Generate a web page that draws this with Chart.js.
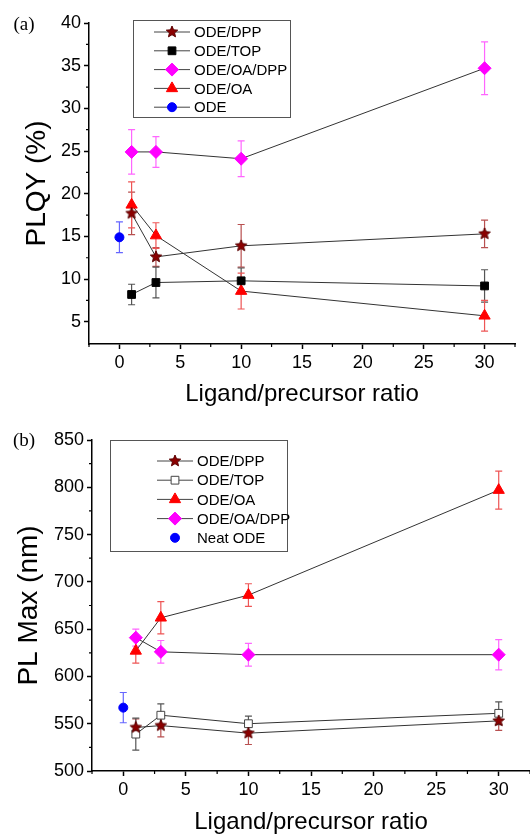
<!DOCTYPE html>
<html>
<head>
<meta charset="utf-8">
<script src="https://cdn.jsdelivr.net/npm/chart.js@4.4.0/dist/chart.umd.min.js"></script>
<style>
  html, body { margin: 0; padding: 0; background: #fff; }
  #wrap { position: relative; width: 530px; height: 837px; overflow: hidden; }
  .panel { position: absolute; left: 0; width: 530px; }
</style>
</head>
<body>
<div id="wrap">
  <div class="panel" style="top:0;height:418px"><canvas id="chartA"></canvas></div>
  <div class="panel" style="top:418px;height:419px"><canvas id="chartB"></canvas></div>
</div>
<script>
// ---- data ----
const ratios = [1, 3, 10, 30];
const neatRatio = [0];

// (a) PLQY (%)
const plqyDPP = [17.7, 12.6, 13.9, 15.3];
const plqyDPPErr = [2.5, 1.1, 2.5, 1.6];
const plqyTOP = [8.2, 9.6, 9.8, 9.2];
const plqyTOPErr = [1.2, 1.8, 1.5, 1.9];
const plqyOADPP = [24.9, 24.9, 24.1, 34.7];
const plqyOADPPErr = [2.6, 1.8, 2.1, 3.1];
const plqyOA = [18.7, 15.1, 8.6, 5.7];
const plqyOAErr = [2.7, 1.5, 2.1, 1.8];
const plqyODE = [14.9];
const plqyODEErr = [1.8];

// (b) PL max (nm)
const pmDPP = [546, 548, 540, 553];
const pmDPPErr = [9, 12, 12, 10];
const pmTOP = [539, 559, 550, 561];
const pmTOPErr = [17, 12, 8, 12];
const pmOA = [627, 662, 686, 797];
const pmOAErr = [13, 17, 12, 20];
const pmOADPP = [641, 626, 623, 623];
const pmOADPPErr = [9, 12, 12, 16];
const pmODE = [567];
const pmODEErr = [16];

// ticks
const xTicks = [0, 5, 10, 15, 20, 25, 30];
const xMinor = [-2.5, 2.5, 7.5, 12.5, 17.5, 22.5, 27.5, 32.5];
const yTicksA = [5, 10, 15, 20, 25, 30, 35, 40];
const yMinorA = [7.5, 12.5, 17.5, 22.5, 27.5, 32.5, 37.5];
const yTicksB = [500, 550, 600, 650, 700, 750, 800, 850];
const yMinorB = [525, 575, 625, 675, 725, 775, 825];

const FONT = "'Liberation Sans', Arial, sans-serif";

function pts(xs, ys) {
  return xs.map((x, i) => ({ x: x, y: ys[i] }));
}

// filled five point star used as point style
function makeStar(r, fill, stroke) {
  const c = document.createElement('canvas');
  const s = Math.ceil(r * 2 + 4);
  c.width = s; c.height = s;
  const ctx = c.getContext('2d');
  ctx.beginPath();
  for (let i = 0; i < 10; i++) {
    const rad = i % 2 ? r * 0.45 : r;
    const a = -Math.PI / 2 + i * Math.PI / 5;
    ctx.lineTo(s / 2 + rad * Math.cos(a), s / 2 + rad * Math.sin(a));
  }
  ctx.closePath();
  ctx.fillStyle = fill;
  ctx.fill();
  ctx.strokeStyle = stroke;
  ctx.lineWidth = 1;
  ctx.stroke();
  return c;
}

// error bars under the markers
const errorBars = {
  id: 'errorBars',
  beforeDatasetsDraw(chart) {
    const ctx = chart.ctx;
    const xs = chart.scales.x, ys = chart.scales.y;
    chart.data.datasets.forEach(ds => {
      if (!ds.errors) return;
      ctx.save();
      ctx.strokeStyle = ds.errorColor;
      ctx.lineWidth = 1.2;
      ds.data.forEach((p, i) => {
        const e = ds.errors[i];
        const x = xs.getPixelForValue(p.x);
        const yt = ys.getPixelForValue(p.y + e);
        const yb = ys.getPixelForValue(p.y - e);
        ctx.beginPath();
        ctx.moveTo(x, yt); ctx.lineTo(x, yb);
        ctx.moveTo(x - 3.5, yt); ctx.lineTo(x + 3.5, yt);
        ctx.moveTo(x - 3.5, yb); ctx.lineTo(x + 3.5, yb);
        ctx.stroke();
      });
      ctx.restore();
    });
  }
};

// minor ticks, legend box and panel letter
const decorations = {
  id: 'decorations',
  afterDraw(chart, args, opts) {
    const ctx = chart.ctx;
    const area = chart.chartArea;
    const xs = chart.scales.x, ys = chart.scales.y;
    ctx.save();
    ctx.strokeStyle = '#000';
    ctx.lineWidth = 1.2;
    ctx.beginPath();
    opts.xMinor.forEach(v => {
      const x = xs.getPixelForValue(v);
      ctx.moveTo(x, area.bottom); ctx.lineTo(x, area.bottom + 3);
    });
    opts.yMinor.forEach(v => {
      const y = ys.getPixelForValue(v);
      ctx.moveTo(area.left, y); ctx.lineTo(area.left - 3, y);
    });
    ctx.stroke();

    // panel letter
    ctx.fillStyle = '#000';
    ctx.font = "19px 'Liberation Serif', 'Times New Roman', serif";
    ctx.textBaseline = 'middle';
    ctx.textAlign = 'center';
    ctx.fillText(opts.letter, 24, opts.letterY);

    // legend
    const lg = opts.legend;
    ctx.strokeStyle = '#555';
    ctx.lineWidth = 1;
    ctx.strokeRect(lg.x + 0.5, lg.y + 0.5, lg.w, lg.h);
    ctx.font = '15px ' + FONT;
    ctx.textAlign = 'left';
    lg.order.forEach((di, k) => {
      const ds = chart.data.datasets[di];
      const y = lg.firstRow + k * lg.rowGap;
      if (ds.showLine !== false) {
        ctx.strokeStyle = '#444';
        ctx.lineWidth = 1;
        ctx.beginPath();
        ctx.moveTo(lg.lineX0, y); ctx.lineTo(lg.lineX1, y);
        ctx.stroke();
      }
      ctx.save();
      ctx.fillStyle = ds.pointBackgroundColor;
      ctx.strokeStyle = ds.pointBorderColor;
      ctx.lineWidth = ds.pointBorderWidth;
      Chart.helpers.drawPoint(ctx, {
        pointStyle: ds.pointStyle,
        radius: ds.pointRadius,
        rotation: 0,
        borderWidth: ds.pointBorderWidth
      }, (lg.lineX0 + lg.lineX1) / 2, y);
      ctx.restore();
      ctx.fillStyle = '#000';
      ctx.fillText(ds.label, lg.textX, y + 1);
    });
    ctx.restore();
  }
};

function series(label, xs, ys, errs, style, opt) {
  return Object.assign({
    label: label,
    data: pts(xs, ys),
    errors: errs,
    showLine: true,
    borderColor: '#333',
    borderWidth: 1,
    pointStyle: style,
    pointBorderWidth: 1,
    pointHoverRadius: 0
  }, opt);
}

function axis(minV, maxV, major, size, title, titlePad, horizontal) {
  return {
    type: 'linear',
    min: minV,
    max: maxV,
    afterBuildTicks: s => { s.ticks = major.map(v => ({ value: v })); },
    afterFit: s => {
      if (horizontal) {
        s.height = size;
        s.paddingLeft = 0;
        s.paddingRight = 0;
      } else {
        s.width = size;
      }
    },
    ticks: { color: '#000', font: { size: 18, family: FONT }, padding: 3 },
    grid: { drawOnChartArea: false, tickLength: 5, tickColor: '#000', tickWidth: 1.5 },
    border: { color: '#000', width: 1.5 },
    title: {
      display: true, text: title, color: '#000',
      font: { size: horizontal ? 24 : 28, family: FONT }, padding: titlePad
    }
  };
}

function makeChart(id, datasets, scales, padding, deco) {
  return new Chart(document.getElementById(id), {
    type: 'scatter',
    data: { datasets: datasets },
    options: {
      responsive: true,
      maintainAspectRatio: false,
      animation: false,
      layout: { padding: padding, autoPadding: false },
      scales: scales,
      plugins: {
        legend: { display: false },
        tooltip: { enabled: false },
        decorations: deco
      }
    },
    plugins: [errorBars, decorations]
  });
}

// ---- (a) ----
makeChart('chartA', [
  series('ODE/DPP', ratios, plqyDPP, plqyDPPErr, makeStar(6, '#8b0000', '#5a0000'),
    { pointRadius: 6, pointBackgroundColor: '#8b0000', pointBorderColor: '#5a0000', errorColor: '#b85050' }),
  series('ODE/TOP', ratios, plqyTOP, plqyTOPErr, 'rect',
    { pointRadius: 5.5, pointBackgroundColor: '#000', pointBorderColor: '#000', errorColor: '#555' }),
  series('ODE/OA/DPP', ratios, plqyOADPP, plqyOADPPErr, 'rectRot',
    { pointRadius: 6.5, pointBackgroundColor: '#ff00ff', pointBorderColor: '#ff00ff', errorColor: '#ff66ff' }),
  series('ODE/OA', ratios, plqyOA, plqyOAErr, 'triangle',
    { pointRadius: 6.5, pointBackgroundColor: '#ff0000', pointBorderColor: '#ff0000', errorColor: '#ee5555' }),
  series('ODE', neatRatio, plqyODE, plqyODEErr, 'circle',
    { showLine: true, pointRadius: 4.5, pointBackgroundColor: '#0000ff', pointBorderColor: '#0000ff', errorColor: '#6666ff' })
], {
  x: axis(-2.5, 32.5, xTicks, 74, 'Ligand/precursor ratio', { top: 0, bottom: 9 }, true),
  y: axis(2.4, 40, yTicksA, 89, 'PLQY (%)', { top: 20, bottom: 0 }, false)
}, { top: 23, right: 15, bottom: 0, left: 0 }, {
  xMinor: xMinor, yMinor: yMinorA, letter: '(a)', letterY: 25,
  legend: { x: 133, y: 20, w: 157, h: 97, order: [0, 1, 2, 3, 4],
    firstRow: 32, rowGap: 18.8, lineX0: 154, lineX1: 190, textX: 194 }
});

// ---- (b) ----
makeChart('chartB', [
  series('ODE/DPP', ratios, pmDPP, pmDPPErr, makeStar(6, '#8b0000', '#5a0000'),
    { pointRadius: 6, pointBackgroundColor: '#8b0000', pointBorderColor: '#5a0000', errorColor: '#b85050' }),
  series('ODE/TOP', ratios, pmTOP, pmTOPErr, 'rect',
    { pointRadius: 5.5, pointBackgroundColor: '#fff', pointBorderColor: '#444', errorColor: '#555' }),
  series('ODE/OA', ratios, pmOA, pmOAErr, 'triangle',
    { pointRadius: 6.5, pointBackgroundColor: '#ff0000', pointBorderColor: '#ff0000', errorColor: '#ee5555' }),
  series('ODE/OA/DPP', ratios, pmOADPP, pmOADPPErr, 'rectRot',
    { pointRadius: 6.5, pointBackgroundColor: '#ff00ff', pointBorderColor: '#ff00ff', errorColor: '#ff66ff' }),
  series('Neat ODE', neatRatio, pmODE, pmODEErr, 'circle',
    { showLine: false, pointRadius: 4.5, pointBackgroundColor: '#0000ff', pointBorderColor: '#0000ff', errorColor: '#6666ff' })
], {
  x: axis(-2.5, 32.5, xTicks, 66, 'Ligand/precursor ratio', { top: 0, bottom: 0 }, true),
  y: axis(500, 850, yTicksB, 92, 'PL Max (nm)', { top: 12, bottom: 0 }, false)
}, { top: 22, right: 0, bottom: 0, left: 0 }, {
  xMinor: xMinor, yMinor: yMinorB, letter: '(b)', letterY: 23,
  legend: { x: 110, y: 22, w: 177, h: 111, order: [0, 1, 2, 3, 4],
    firstRow: 43, rowGap: 19.2, lineX0: 157, lineX1: 193, textX: 197 }
});
</script>
</body>
</html>
